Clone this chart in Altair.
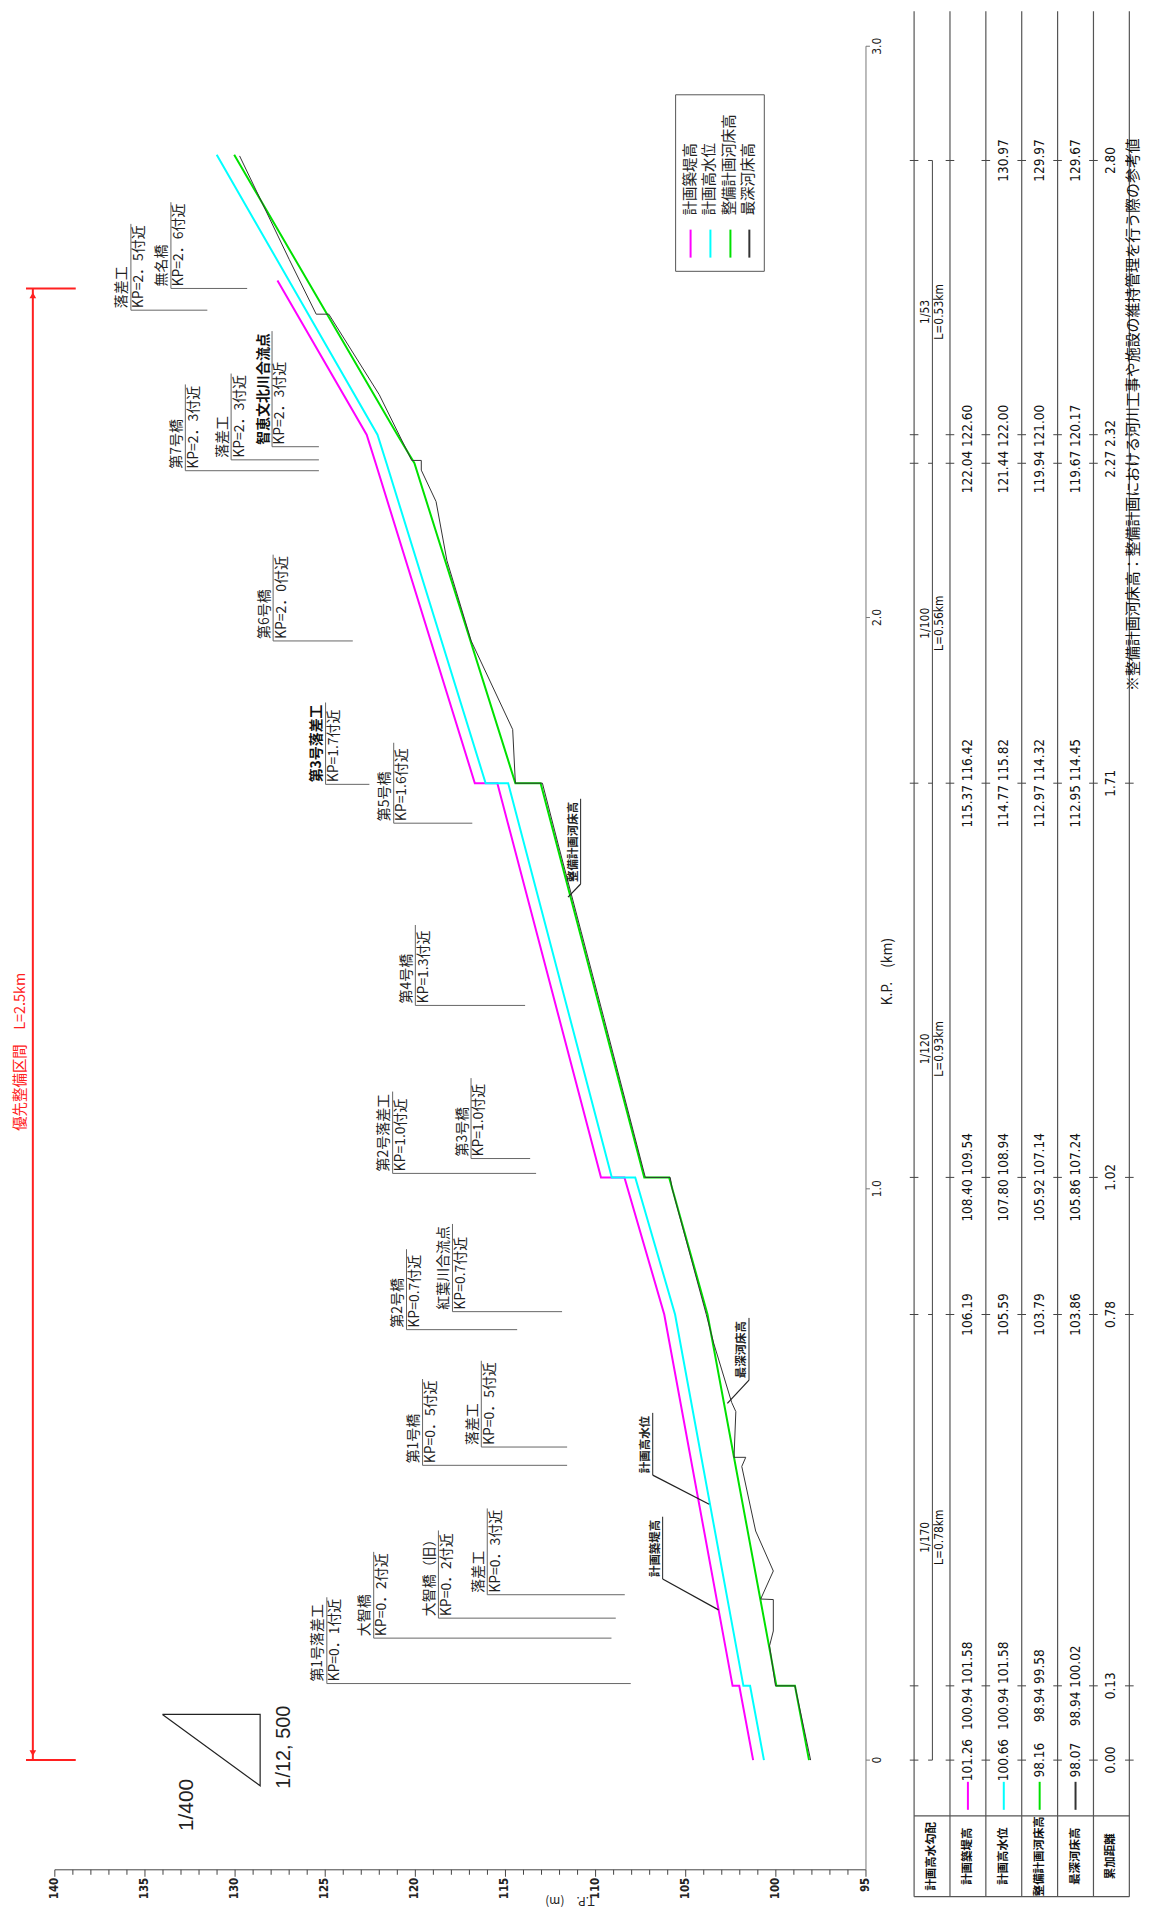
import altair as alt
import pandas as pd

# ------------------------------------------------------------------ data
series_names = ["計画築堤高", "計画高水位", "整備計画河床高", "最深河床高"]
series_colors = ["#ff00ff", "#00ffff", "#00e000", "#333333"]

embank_kp = [0.00, 0.13, 0.13, 0.78, 1.02, 1.02, 1.71, 1.71, 2.27, 2.32, 2.59]
embank_el = [101.26, 102.03, 102.40, 106.19, 108.40, 109.70, 115.45, 116.70, 122.20, 122.70, 127.65]

hwl_kp = [0.00, 0.13, 0.13, 0.78, 1.02, 1.02, 1.71, 1.71, 2.27, 2.32, 2.81]
hwl_el = [100.66, 101.43, 101.80, 105.59, 107.80, 109.10, 114.85, 116.10, 121.60, 122.10, 131.02]

plan_kp = [0.00, 0.13, 0.13, 0.78, 1.02, 1.02, 1.71, 1.71, 2.27, 2.32, 2.81]
plan_el = [98.16, 98.94, 99.97, 103.79, 105.92, 107.30, 113.05, 114.45, 120.05, 121.00, 130.05]

deep_kp = [0.00, 0.13, 0.13, 0.20, 0.226, 0.281, 0.282, 0.331, 0.401, 0.514, 0.530, 0.530,
           0.610, 0.626, 0.730, 0.780, 1.000, 1.020, 1.020, 1.300, 1.450, 1.600, 1.710,
           1.710, 1.804, 1.959, 2.100, 2.203, 2.258, 2.275, 2.275, 2.390, 2.531, 2.531,
           2.627, 2.808]
deep_el = [98.07, 98.94, 100.02, 100.35, 100.14, 100.14, 100.84, 100.14, 101.12, 101.89, 101.67, 102.32,
           102.22, 102.45, 103.45, 103.86, 105.75, 105.86, 107.24, 109.55, 110.80, 112.05, 112.95,
           114.45, 114.60, 116.90, 118.25, 118.85, 119.67, 119.67, 120.20, 122.00, 124.80, 125.50,
           127.00, 129.75]

# structures (annotations)
ann_name = ["第1号落差工", "大智橋", "大智橋（旧）", "落差工", "第1号橋", "落差工", "第2号橋",
            "紅葉川合流点", "第2号落差工", "第3号橋", "第4号橋", "第3号落差工", "第5号橋",
            "第6号橋", "第7号橋", "落差工", "智恵文北川合流点", "落差工", "無名橋"]
ann_kptext = ["KP=0．1付近", "KP=0．2付近", "KP=0．2付近", "KP=0．3付近", "KP=0．5付近",
              "KP=0．5付近", "KP=0.7付近", "KP=0.7付近", "KP=1.0付近", "KP=1.0付近",
              "KP=1.3付近", "KP=1.7付近", "KP=1.6付近", "KP=2．0付近", "KP=2．3付近",
              "KP=2．3付近", "KP=2．3付近", "KP=2．5付近", "KP=2．6付近"]
ann_kp = [0.134, 0.2135, 0.2485, 0.2895, 0.516, 0.548, 0.7535, 0.785, 1.027, 1.053,
          1.321, 1.708, 1.640, 1.959, 2.257, 2.276, 2.299, 2.538, 2.576]
ann_under = [124.91, 122.31, 118.72, 116.01, 119.60, 116.34, 120.49, 117.94, 121.26, 116.91,
             120.00, 124.98, 121.20, 127.89, 132.76, 130.22, 127.95, 135.78, 133.56]
ann_end = [108.05, 109.12, 108.88, 108.38, 111.58, 111.58, 114.35, 111.86, 113.30, 113.63,
           113.91, 122.55, 116.84, 123.47, 125.35, 125.35, 125.35, 131.54, 129.33]
ann_bold = [False] * 11 + [True] + [False] * 4 + [True] + [False] * 2

# callouts naming the profile lines
call_name = ["計画築堤高", "計画高水位", "最深河床高", "整備計画河床高"]
call_line_kp = [0.263, 0.448, 0.6244, 1.5105]
call_line_el = [103.18, 103.70, 102.69, 111.53]
call_kp = [0.317, 0.4988, 0.665, 1.5336]
call_el = [106.28, 106.83, 101.49, 110.83]

# table
table_headers = ["計画高水勾配", "計画築堤高", "計画高水位", "整備計画河床高", "最深河床高", "累加距離"]
table_kp = [0.0, 0.13, 0.78, 1.02, 1.71, 2.295, 2.80]
col_embank = ["101.26", "100.94 101.58", "106.19", "108.40 109.54", "115.37 116.42", "122.04 122.60", ""]
col_hwl = ["100.66", "100.94 101.58", "105.59", "107.80 108.94", "114.77 115.82", "121.44 122.00", "130.97"]
col_plan = ["98.16", "98.94  99.58", "103.79", "105.92 107.14", "112.97 114.32", "119.94 121.00", "129.97"]
col_deep = ["98.07", "98.94 100.02", "103.86", "105.86 107.24", "112.95 114.45", "119.67 120.17", "129.67"]
col_dist = ["0.00", "0.13", "0.78", "1.02", "1.71", "2.27 2.32", "2.80"]
section_kp = [0.0, 0.13, 0.78, 1.02, 1.71, 2.27, 2.32, 2.80]
slope_text = ["1/170", "1/120", "1/100", "1/53"]
slope_len = ["L=0.78km", "L=0.93km", "L=0.56km", "L=0.53km"]
slope_mid_kp = [0.39, 1.245, 1.99, 2.535]

tp_ticks = list(range(95, 141))
kp_ticks = [0, 1, 2, 3]
kp_tick_labels = ["0", "1.0", "2.0", "3.0"]

note_text = "※整備計画河床高：整備計画における河川工事や施設の維持管理を行う際の参考値"

# ------------------------------------------------------------------ layout
PLOT_W, PLOT_H = 814, 1830
E_MIN, E_MAX = 95, 140
KP_MIN, KP_MAX = -0.192, 3.0
PX_M = PLOT_W / (E_MAX - E_MIN)
PX_KM = PLOT_H / (KP_MAX - KP_MIN)
PAD = {"left": 47, "top": 35, "right": 276, "bottom": 45}
KP_TOP = KP_MAX + PAD["top"] / PX_KM
COL_PX = 36.0
COL_X0 = 917.3 - 55.0  # px from plot origin to first table line
C0 = -COL_X0 / COL_PX
C1 = C0 + PLOT_W / COL_PX

JP = "Noto Sans CJK JP"
NARROW = "Liberation Sans Narrow, DejaVu Sans Condensed, sans-serif"

XS = alt.Scale(domain=[E_MIN, E_MAX], reverse=True, nice=False, zero=False)
YS = alt.Scale(domain=[KP_MIN, KP_MAX], nice=False, zero=False)
CS = alt.Scale(domain=[C0, C1], nice=False, zero=False)


def ex(f="E"):
    return alt.X(f"{f}:Q", scale=XS, axis=None)


def ey(f="KP"):
    return alt.Y(f"{f}:Q", scale=YS, axis=None)


def ec(f="c"):
    return alt.X(f"{f}:Q", scale=CS, axis=None)


def text_len(s, size):
    return sum(size if ord(ch) > 255 else 0.58 * size for ch in s)


def vtext(df, fs, font=JP, align="left", color="#222", weight="normal", angle=270, xenc=None):
    return alt.Chart(df).mark_text(angle=angle, align=align, baseline="middle", font=font,
                                   fontSize=fs, fontWeight=weight, color=color).encode(
        x=xenc if xenc is not None else ex(), y=ey(), text="label:N")


# ------------------------------------------------------------------ axes (drawn as marks)
AX = "#444"
tp_dom = alt.Chart(pd.DataFrame([{"E": E_MAX, "E2": E_MIN, "KP": KP_MIN}])).mark_rule(
    color=AX, strokeWidth=1).encode(x=ex(), x2="E2:Q", y=ey())
tp_tick_df = pd.DataFrame({"E": tp_ticks, "KP": [KP_MIN] * len(tp_ticks),
                           "KP2": [KP_MIN - (7 if v % 5 == 0 else 5) / PX_KM for v in tp_ticks]})
tp_tick = alt.Chart(tp_tick_df).mark_rule(color=AX, strokeWidth=1).encode(x=ex(), y=ey(), y2="KP2:Q")
tp_lab_df = pd.DataFrame({"E": [v for v in tp_ticks if v % 5 == 0],
                          "label": [str(v) for v in tp_ticks if v % 5 == 0]})
tp_lab_df["KP"] = KP_MIN - 8 / PX_KM
tp_lab = vtext(tp_lab_df, 11.5, font=NARROW, align="right", weight="bold", color="#222")

kp_dom = alt.Chart(pd.DataFrame([{"E": E_MIN, "KP": KP_MIN, "KP2": KP_MAX}])).mark_rule(
    color="#777", strokeWidth=1).encode(x=ex(), y=ey(), y2="KP2:Q")
kp_tick = alt.Chart(pd.DataFrame({"E": [E_MIN] * 4, "E2": [E_MIN - 4 / PX_M] * 4, "KP": kp_ticks})).mark_rule(
    color="#777", strokeWidth=1).encode(x=ex(), x2="E2:Q", y=ey())
kp_lab_df = pd.DataFrame({"E": [E_MIN - 11 / PX_M] * 4, "KP": kp_ticks, "label": kp_tick_labels})
kp_lab = vtext(kp_lab_df, 12, font=NARROW, align="center", color="#222")

# ------------------------------------------------------------------ profile lines
rows = []
for name, col, kps, els in zip(series_names, series_colors,
                               [embank_kp, hwl_kp, plan_kp, deep_kp],
                               [embank_el, hwl_el, plan_el, deep_el]):
    for i, (k, e) in enumerate(zip(kps, els)):
        rows.append({"series": name, "col": col, "idx": i, "KP": k, "E": e})
prof = pd.DataFrame(rows)

thick = alt.Chart(prof[prof.series != "最深河床高"]).mark_line(strokeWidth=2).encode(
    x=ex(), y=ey(), color=alt.Color("col:N", scale=None),
    detail="series:N", order="idx:Q")
thin = alt.Chart(prof[prof.series == "最深河床高"]).mark_line(strokeWidth=1, color="#333333").encode(
    x=ex(), y=ey(), order="idx:Q")

# ------------------------------------------------------------------ structure annotations
ANN_FS = 14
off = 8.5 / PX_M
gap = 2 / PX_KM
ann_rows, under_rows, lead_rows = [], [], []
for n, t, k, u, e, b in zip(ann_name, ann_kptext, ann_kp, ann_under, ann_end, ann_bold):
    ann_rows.append({"E": u + off, "KP": k + gap, "label": n, "bold": b})
    ann_rows.append({"E": u - off, "KP": k + gap, "label": t, "bold": False})
    L = max(text_len(n, ANN_FS), text_len(t, ANN_FS)) + 4
    under_rows.append({"E": u, "KP": k, "KP2": k + L / PX_KM})
    lead_rows.append({"E": u, "E2": e, "KP": k})
ann_df = pd.DataFrame(ann_rows)

ann_text = vtext(ann_df[~ann_df.bold], ANN_FS)
ann_text_b = vtext(ann_df[ann_df.bold], ANN_FS, weight="bold", color="#111")
ann_under_r = alt.Chart(pd.DataFrame(under_rows)).mark_rule(color="#666", strokeWidth=1).encode(
    x=ex(), y=ey(), y2="KP2:Q")
ann_lead_r = alt.Chart(pd.DataFrame(lead_rows)).mark_rule(color="#666", strokeWidth=1).encode(
    x=ex(), x2="E2:Q", y=ey())

# ------------------------------------------------------------------ line callouts
CALL_FS = 11.5
c_rows, cu_rows, cl_rows = [], [], []
for n, lk, le, k, e in zip(call_name, call_line_kp, call_line_el, call_kp, call_el):
    c_rows.append({"E": e + 7 / PX_M, "KP": k + gap, "label": n})
    cu_rows.append({"E": e, "KP": k, "KP2": k + (text_len(n, CALL_FS) + 5) / PX_KM})
    cl_rows.append({"E": le, "E2": e, "KP": lk, "KP2": k})
call_text = vtext(pd.DataFrame(c_rows), CALL_FS, weight="bold")
call_under = alt.Chart(pd.DataFrame(cu_rows)).mark_rule(color="#222", strokeWidth=1).encode(
    x=ex(), y=ey(), y2="KP2:Q")
call_lead = alt.Chart(pd.DataFrame(cl_rows)).mark_rule(color="#222", strokeWidth=1.2).encode(
    x=ex(), x2="E2:Q", y=ey(), y2="KP2:Q")

# ------------------------------------------------------------------ legend box
leg_x = [104.73, 103.63, 102.52, 101.47]
leg_box = alt.Chart(pd.DataFrame([{"E": 105.56, "E2": 100.64, "KP": 2.915, "KP2": 2.606}])).mark_rect(
    fill="white", fillOpacity=0, stroke="#555", strokeWidth=1).encode(
    x=ex(), x2="E2:Q", y=ey(), y2="KP2:Q")
leg_sw = alt.Chart(pd.DataFrame({"E": leg_x, "KP": [2.630] * 4, "KP2": [2.679] * 4,
                                 "col": series_colors})).mark_rule(strokeWidth=2).encode(
    x=ex(), y=ey(), y2="KP2:Q", color=alt.Color("col:N", scale=None))
leg_txt = vtext(pd.DataFrame({"E": leg_x, "KP": [2.704] * 4, "label": series_names}), 14.5)

# ------------------------------------------------------------------ scale triangle & titles
tri = alt.Chart(pd.DataFrame({"E": [134.03, 128.61, 128.61, 134.03],
                              "KP": [0.080, 0.080, -0.045, 0.080], "i": [0, 1, 2, 3]})).mark_line(
    color="#222", strokeWidth=1.2).encode(x=ex(), y=ey(), order="i:Q")
tri_t1 = vtext(pd.DataFrame([{"E": 127.26, "KP": 0.0227, "label": "1/12, 500"}]), 20,
               font="Liberation Sans", align="center")
tri_t2 = vtext(pd.DataFrame([{"E": 132.67, "KP": -0.0785, "label": "1/400"}]), 21,
               font="Liberation Sans", align="center")

tp_title = vtext(pd.DataFrame([{"E": 111.42, "KP": KP_MIN - 31 / PX_KM, "label": "T.P.　(m)"}]), 12,
                 align="center", angle=180)
kp_title = vtext(pd.DataFrame([{"E": 93.78, "KP": 1.38, "label": "K.P.　(km)"}]), 14, align="center")

# ------------------------------------------------------------------ priority section arrow
RED = "#ff2020"
arrow_v = alt.Chart(pd.DataFrame([{"E": 141.22, "KP": 0.0, "KP2": 2.576}])).mark_rule(
    color=RED, strokeWidth=2).encode(x=ex(), y=ey(), y2="KP2:Q")
arrow_h = alt.Chart(pd.DataFrame({"E": [141.60, 141.60], "E2": [138.84, 138.84],
                                  "KP": [0.0, 2.576]})).mark_rule(color=RED, strokeWidth=2).encode(
    x=ex(), x2="E2:Q", y=ey())
head_up = alt.Chart(pd.DataFrame([{"E": 141.22, "KP": 2.576 - 7 / PX_KM}])).mark_point(
    shape="triangle-up", filled=True, color=RED, size=45, opacity=1).encode(x=ex(), y=ey())
head_dn = alt.Chart(pd.DataFrame([{"E": 141.22, "KP": 0.0 + 7 / PX_KM}])).mark_point(
    shape="triangle-down", filled=True, color=RED, size=45, opacity=1).encode(x=ex(), y=ey())
arrow_t = vtext(pd.DataFrame([{"E": 141.85, "KP": 1.24, "label": "優先整備区間　L=2.5km"}]), 14.5,
                align="center", color=RED)

main = alt.layer(tp_dom, tp_tick, tp_lab, kp_dom, kp_tick, kp_lab,
                 thick, thin, ann_lead_r, ann_under_r, ann_text, ann_text_b,
                 call_lead, call_under, call_text, leg_box, leg_sw, leg_txt,
                 tri, tri_t1, tri_t2, tp_title, kp_title,
                 arrow_v, arrow_h, head_up, head_dn, arrow_t)

# ------------------------------------------------------------------ table (own x scale)
KP_HDR_TOP = (1763 - 1819) / PX_KM
KP_TBL_BOT = (1763 - 1900) / PX_KM

vlines = pd.DataFrame({"c": list(range(7)), "KP": [KP_TOP] * 7, "KP2": [KP_TBL_BOT] * 7})
t_vl = alt.Chart(vlines).mark_rule(color="#555", strokeWidth=1.2).encode(x=ec(), y=ey(), y2="KP2:Q")
hlines = pd.DataFrame({"c": [0, 0], "c2": [6, 6], "KP": [KP_HDR_TOP, KP_TBL_BOT]})
t_hl = alt.Chart(hlines).mark_rule(color="#555", strokeWidth=1.2).encode(x=ec(), x2="c2:Q", y=ey())
t_inner = alt.Chart(pd.DataFrame([{"c": 0.51, "KP": 0.0, "KP2": 2.80}])).mark_rule(
    color="#444", strokeWidth=1).encode(x=ec(), y=ey(), y2="KP2:Q")
tick_rows = []
for k in section_kp:
    for c in [0, 1, 2, 3, 4, 5, 6]:
        tick_rows.append({"c": c - 0.12, "c2": c + 0.12, "KP": k})
for k in [0.0, 0.78, 1.71, 2.27, 2.80]:
    tick_rows.append({"c": 0.39, "c2": 0.51, "KP": k})
t_ticks = alt.Chart(pd.DataFrame(tick_rows)).mark_rule(color="#444", strokeWidth=1).encode(
    x=ec(), x2="c2:Q", y=ey())

hdr = pd.DataFrame({"c": [i + 0.5 for i in range(6)], "KP": [(KP_HDR_TOP + KP_TBL_BOT) / 2] * 6,
                    "label": table_headers})
t_hdr = vtext(hdr, 11.5, align="center", weight="bold", color="#111", xenc=ec())

val_rows = []
for ci, col in enumerate([col_embank, col_hwl, col_plan, col_deep, col_dist]):
    for k, v in zip(table_kp, col):
        if v:
            val_rows.append({"c": ci + 1.5, "KP": k, "label": v})
t_vals = vtext(pd.DataFrame(val_rows), 13.5, font=NARROW, align="center", color="#111", xenc=ec())

sw_rows = pd.DataFrame({"c": [1.5, 2.5, 3.5, 4.5], "KP": [-0.038] * 4, "KP2": [-0.087] * 4,
                        "col": series_colors})
t_sw = alt.Chart(sw_rows).mark_rule(strokeWidth=2).encode(
    x=ec(), y=ey(), y2="KP2:Q", color=alt.Color("col:N", scale=None))

slope_rows = []
for s, l, k in zip(slope_text, slope_len, slope_mid_kp):
    slope_rows.append({"c": 0.31, "KP": k, "label": s})
    slope_rows.append({"c": 0.70, "KP": k, "label": l})
t_slope = vtext(pd.DataFrame(slope_rows), 12, font=NARROW, align="center", color="#111", xenc=ec())

t_note = vtext(pd.DataFrame([{"c": 6.0 + (1137.3 - 1133.3) / COL_PX, "KP": (1763 - 690) / PX_KM,
                              "label": note_text}]), 15, color="#111", xenc=ec())

table = alt.layer(t_vl, t_hl, t_inner, t_ticks, t_hdr, t_vals, t_sw, t_slope, t_note)

chart = alt.layer(main, table).resolve_scale(x="independent").properties(
    width=PLOT_W, height=PLOT_H, padding=PAD,
    autosize=alt.AutoSizeParams(type="none"),
).configure_view(stroke=None)

chart.save("out.html", embed_options={"renderer": "svg", "actions": False})
